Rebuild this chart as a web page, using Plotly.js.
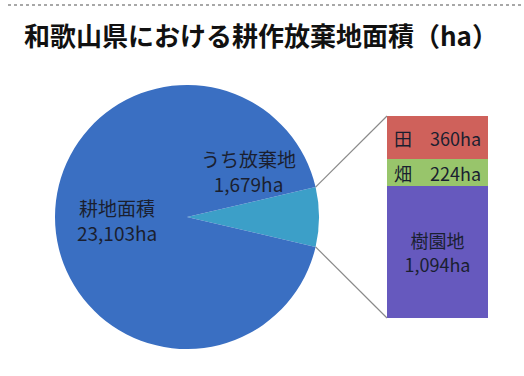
<!DOCTYPE html>
<html>
<head>
<meta charset="utf-8">
<script src="https://cdn.plot.ly/plotly-3.0.1.min.js"></script>
<style>
  html, body { margin: 0; padding: 0; background: #ffffff; }
  #chart { width: 524px; height: 376px; }
</style>
</head>
<body>
<div id="chart"></div>
<script>
// ---- data ----
const titleText = '和歌山県における耕作放棄地面積（ha）';
const farmlandLabel = '耕地面積';
const farmlandArea = 23103;          // ha (total cultivated land)
const abandonedLabel = 'うち放棄地';
const abandonedArea = 1679;          // ha (of which abandoned)
const barCategories = ['樹園地', '畑', '田'];   // bottom -> top
const barValues = [1094, 224, 360];              // ha
const unit = 'ha';

// ---- styles ----
const W = 524, H = 376;
const FONT = '"Noto Sans CJK JP", "Noto Sans", sans-serif';
const textColor = '#1a1f30';
const pieColors = ['#3c9fc8', '#3a6fc2'];
const barColors = ['#6659be', '#98c56b', '#cf615b'];
const pieDomain = { x: [55 / W, 319 / W], y: [27 / H, 291 / H] };
const barXDomain = [387 / W, 488 / W];
const barYDomain = [58 / H, 260 / H];

const fmt = v => v.toLocaleString('en-US');

// pie geometry (same rules Plotly uses for a pie in its domain)
const sliceDeg = abandonedArea / farmlandArea * 360;
const rotation = 90 - sliceDeg / 2;
const cx = W * (pieDomain.x[0] + pieDomain.x[1]) / 2;
const cy = H * (1 - (pieDomain.y[0] + pieDomain.y[1]) / 2);
const r = Math.min(W * (pieDomain.x[1] - pieDomain.x[0]), H * (pieDomain.y[1] - pieDomain.y[0])) / 2;
function edge(deg) {
  const a = deg * Math.PI / 180;
  return { x: (cx + r * Math.sin(a)) / W, y: 1 - (cy - r * Math.cos(a)) / H };
}
const pTop = edge(rotation);
const pBot = edge(rotation + sliceDeg);

const pieTrace = {
  type: 'pie',
  values: [abandonedArea, farmlandArea - abandonedArea],
  labels: [abandonedLabel, farmlandLabel],
  marker: { colors: pieColors, line: { width: 0 } },
  sort: false,
  direction: 'clockwise',
  rotation: rotation,
  textinfo: 'none',
  hoverinfo: 'skip',
  showlegend: false,
  domain: pieDomain
};

const barTraces = barCategories.map((c, i) => ({
  type: 'bar',
  x: [0],
  y: [barValues[i]],
  name: c,
  marker: { color: barColors[i], line: { width: 0 } },
  text: [c === '樹園地' ? `${c}<br>${fmt(barValues[i])}${unit}` : `${c}　${fmt(barValues[i])}${unit}`],
  textposition: 'inside',
  insidetextanchor: 'middle',
  constraintext: 'none',
  textangle: 0,
  insidetextfont: { family: FONT, size: 18, color: textColor },
  hoverinfo: 'skip',
  showlegend: false,
  xaxis: 'x',
  yaxis: 'y'
}));

const barTotal = barValues.reduce((a, b) => a + b, 0);

const layout = {
  width: W, height: H,
  margin: { l: 0, r: 0, t: 0, b: 0 },
  paper_bgcolor: '#ffffff',
  plot_bgcolor: 'rgba(0,0,0,0)',
  showlegend: false,
  barmode: 'stack',
  bargap: 0,
  title: {
    text: titleText,
    font: { family: FONT, size: 26, color: '#111111', weight: 'bold' },
    x: 261 / W, xanchor: 'center',
    y: 1 - 37 / H, yanchor: 'middle', yref: 'paper'
  },
  xaxis: { domain: barXDomain, range: [-0.5, 0.5], visible: false, fixedrange: true },
  yaxis: { domain: barYDomain, range: [0, barTotal], visible: false, fixedrange: true },
  annotations: [
    {
      xref: 'paper', yref: 'paper', x: 248 / W, y: 1 - 171 / H,
      xanchor: 'center', yanchor: 'middle', showarrow: false,
      text: `${abandonedLabel}<br>${fmt(abandonedArea)}${unit}`,
      font: { family: FONT, size: 19, color: textColor }
    },
    {
      xref: 'paper', yref: 'paper', x: 117 / W, y: 1 - 220 / H,
      xanchor: 'center', yanchor: 'middle', showarrow: false,
      text: `${farmlandLabel}<br>${fmt(farmlandArea)}${unit}`,
      font: { family: FONT, size: 19, color: textColor }
    }
  ],
  shapes: [
    { type: 'line', xref: 'paper', yref: 'paper', x0: 8 / W, x1: 1, y0: 1 - 5 / H, y1: 1 - 5 / H,
      line: { color: '#8c8c8c', width: 1.5, dash: 'dot' } },
    { type: 'line', xref: 'paper', yref: 'paper', x0: pTop.x, y0: pTop.y, x1: barXDomain[0], y1: barYDomain[1],
      line: { color: '#8a8a8a', width: 1.2 } },
    { type: 'line', xref: 'paper', yref: 'paper', x0: pBot.x, y0: pBot.y, x1: barXDomain[0], y1: barYDomain[0],
      line: { color: '#8a8a8a', width: 1.2 } }
  ]
};

Plotly.newPlot('chart', [pieTrace, ...barTraces], layout, { staticPlot: true, displayModeBar: false });
</script>
</body>
</html>
